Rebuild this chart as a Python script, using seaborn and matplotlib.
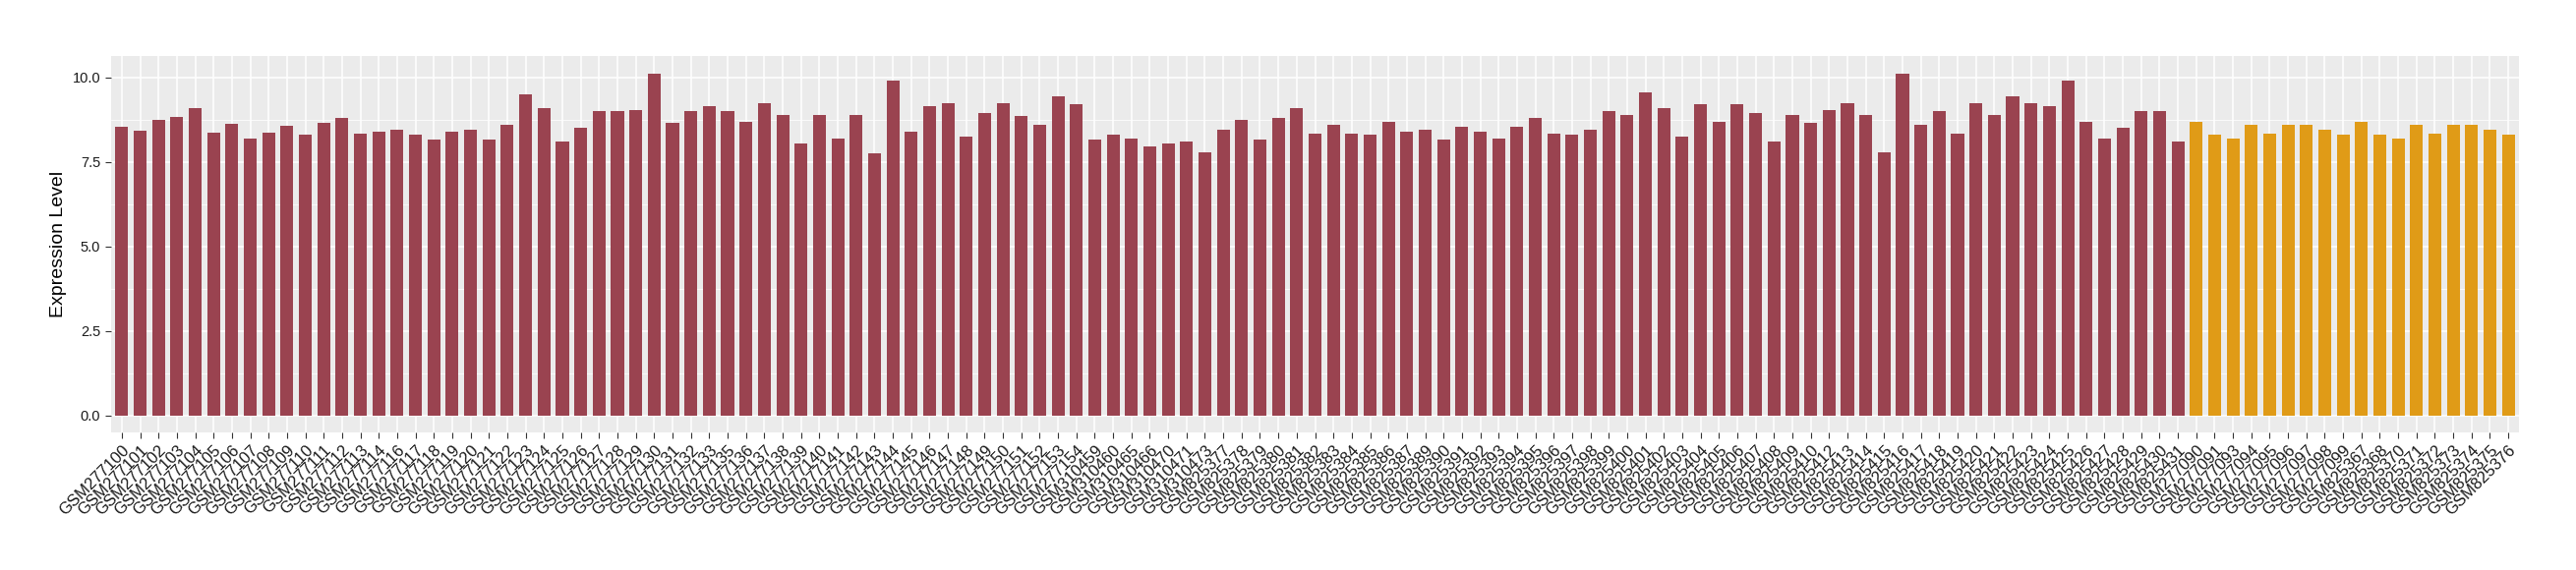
import pandas as pd
import matplotlib.pyplot as plt
import seaborn as sns

# Sample IDs, in plotted order
tumor_samples = [
    "GSM277100", "GSM277101", "GSM277102", "GSM277103", "GSM277104", "GSM277105",
    "GSM277106", "GSM277107", "GSM277108", "GSM277109", "GSM277110", "GSM277111",
    "GSM277112", "GSM277113", "GSM277114", "GSM277116", "GSM277117", "GSM277118",
    "GSM277119", "GSM277120", "GSM277121", "GSM277122", "GSM277123", "GSM277124",
    "GSM277125", "GSM277126", "GSM277127", "GSM277128", "GSM277129", "GSM277130",
    "GSM277131", "GSM277132", "GSM277133", "GSM277135", "GSM277136", "GSM277137",
    "GSM277138", "GSM277139", "GSM277140", "GSM277141", "GSM277142", "GSM277143",
    "GSM277144", "GSM277145", "GSM277146", "GSM277147", "GSM277148", "GSM277149",
    "GSM277150", "GSM277151", "GSM277152", "GSM277153", "GSM277154",
    "GSM310459", "GSM310460", "GSM310465", "GSM310466", "GSM310470", "GSM310471",
    "GSM310473",
    "GSM825377", "GSM825378", "GSM825379", "GSM825380", "GSM825381", "GSM825382",
    "GSM825383", "GSM825384", "GSM825385", "GSM825386", "GSM825387", "GSM825389",
    "GSM825390", "GSM825391", "GSM825392", "GSM825393", "GSM825394", "GSM825395",
    "GSM825396", "GSM825397", "GSM825398", "GSM825399", "GSM825400", "GSM825401",
    "GSM825402", "GSM825403", "GSM825404", "GSM825405", "GSM825406", "GSM825407",
    "GSM825408", "GSM825409", "GSM825410", "GSM825412", "GSM825413", "GSM825414",
    "GSM825415", "GSM825416", "GSM825417", "GSM825418", "GSM825419", "GSM825420",
    "GSM825421", "GSM825422", "GSM825423", "GSM825424", "GSM825425", "GSM825426",
    "GSM825427", "GSM825428", "GSM825429", "GSM825430", "GSM825431",
]
tumor_values = [
    8.53, 8.44, 8.76, 8.82, 9.08, 8.36, 8.62, 8.18, 8.38, 8.56,
    8.30, 8.65, 8.80, 8.35, 8.40, 8.45, 8.30, 8.15, 8.40, 8.45,
    8.15, 8.60, 9.50, 9.10, 8.10, 8.50, 9.00, 9.00, 9.05, 10.10,
    8.65, 9.00, 9.15, 9.00, 8.70, 9.25, 8.90, 8.05, 8.90, 8.20,
    8.90, 7.75, 9.90, 8.40, 9.15, 9.25, 8.25, 8.95, 9.25, 8.85,
    8.60, 9.45, 9.20,
    8.15, 8.30, 8.20, 7.95, 8.05, 8.10, 7.80,
    8.45, 8.75, 8.15, 8.80, 9.10, 8.35, 8.60, 8.35, 8.30, 8.70,
    8.40, 8.45, 8.15, 8.55, 8.40, 8.20, 8.55, 8.80, 8.35, 8.30,
    8.45, 9.00, 8.90, 9.55, 9.10, 8.25, 9.20, 8.70, 9.20, 8.95,
    8.10, 8.90, 8.65, 9.05, 9.25, 8.90, 7.80, 10.10, 8.60, 9.00,
    8.35, 9.25, 8.90, 9.45, 9.25, 9.15, 9.90, 8.70, 8.20, 8.50,
    9.00, 9.00, 8.10,
]
normal_samples = [
    "GSM277090", "GSM277091", "GSM277093", "GSM277094", "GSM277095", "GSM277096",
    "GSM277097", "GSM277098", "GSM277099",
    "GSM825367", "GSM825368", "GSM825370", "GSM825371", "GSM825372", "GSM825373",
    "GSM825374", "GSM825375", "GSM825376",
]
normal_values = [
    8.70, 8.30, 8.20, 8.60, 8.35, 8.60, 8.60, 8.45, 8.30,
    8.70, 8.30, 8.20, 8.60, 8.35, 8.60, 8.60, 8.45, 8.30,
]

df = pd.DataFrame({
    "sample": tumor_samples + normal_samples,
    "value": tumor_values + normal_values,
    "group": ["Tumor"] * len(tumor_samples) + ["Normal"] * len(normal_samples),
})
palette = {"Tumor": "#9A4350", "Normal": "#E09B17"}

fig = plt.figure(figsize=(26.2, 5.8), dpi=100)
ax = fig.add_axes([0.043, 0.241, 0.935, 0.661])
ax.set_facecolor("#EBEBEB")

sns.barplot(data=df, x="sample", y="value", hue="group", palette=palette,
            dodge=False, width=0.7, saturation=1, legend=False, ax=ax, zorder=3)

# ggplot-like grid
ax.set_ylim(-0.506, 10.64)
ax.set_xlim(-0.6, len(df) - 0.4)
ax.set_yticks([0, 2.5, 5, 7.5, 10])
ax.set_yticklabels(["0.0", "2.5", "5.0", "7.5", "10.0"])
ax.set_yticks([1.25, 3.75, 6.25, 8.75], minor=True)
ax.grid(which="major", color="white", linewidth=1.1, zorder=0)
ax.grid(which="minor", axis="y", color="white", linewidth=0.55, zorder=0)
ax.set_axisbelow(True)
for s in ax.spines.values():
    s.set_visible(False)

ax.tick_params(axis="both", which="major", length=4, color="#333333",
               labelcolor="#1a1a1a")
ax.tick_params(axis="y", labelsize=10.5)
ax.tick_params(axis="both", which="minor", length=0)
plt.setp(ax.get_xticklabels(), rotation=45, ha="right", va="top",
         rotation_mode="anchor", fontsize=12)
for lab in ax.get_xticklabels() + ax.get_yticklabels():
    lab.set_family("Liberation Sans")

ax.set_xlabel("")
ax.set_ylabel("Expression Level", fontsize=14, family="Liberation Sans")

fig.savefig("out.png", dpi=100)
